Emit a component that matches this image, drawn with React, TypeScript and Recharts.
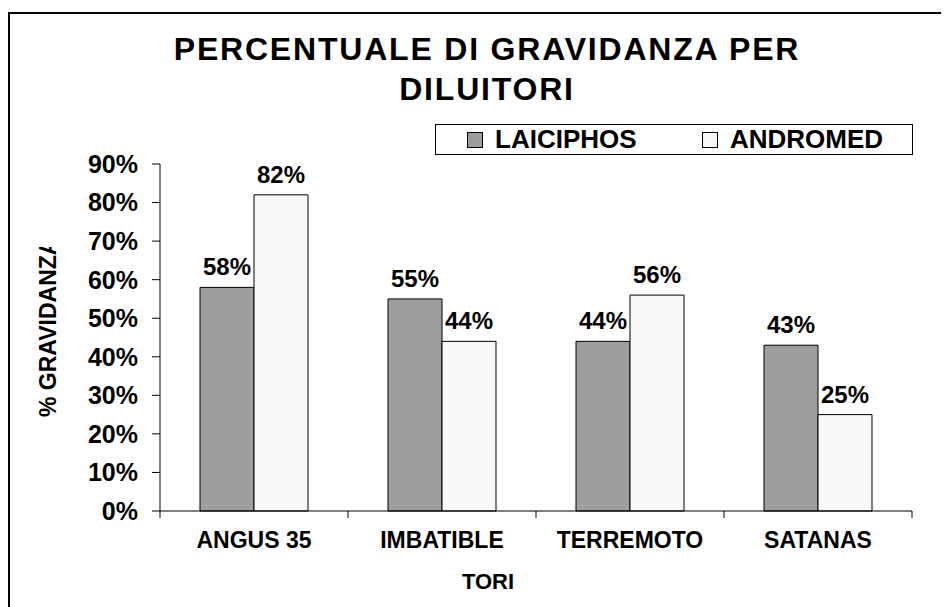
import React from "react";
import { BarChart, Bar, XAxis, YAxis, Legend, LabelList } from "recharts";

const categories = ["ANGUS 35", "IMBATIBLE", "TERREMOTO", "SATANAS"];
const laiciphos = [58, 55, 44, 43];
const andromed = [82, 44, 56, 25];
const yTicks = [0, 10, 20, 30, 40, 50, 60, 70, 80, 90];
const seriesOrder = ["LAICIPHOS", "ANDROMED"];

const data = categories.map((name, i) => ({
  name,
  LAICIPHOS: laiciphos[i],
  ANDROMED: andromed[i],
}));

const FONT = "'Liberation Sans', Arial, sans-serif";
const W = 941;
const H = 599;

const XTick = (props: any) => {
  const { x, y, payload, index, visibleTicksCount, width } = props;
  const half =
    payload && typeof payload.offset === "number" && payload.offset > 0
      ? payload.offset
      : width / (visibleTicksCount || 4) / 2;
  const last = index === (visibleTicksCount || 4) - 1;
  return (
    <g>
      <line x1={x - half} x2={x - half} y1={y} y2={y + 7} stroke="#000" strokeWidth={1} />
      {last && <line x1={x + half} x2={x + half} y1={y} y2={y + 7} stroke="#000" strokeWidth={1} />}
      <text
        x={x}
        y={y + 37}
        textAnchor="middle"
        fontFamily={FONT}
        fontWeight="bold"
        fontSize={23}
        fill="#000"
      >
        {payload.value}
      </text>
    </g>
  );
};

const LegendBox = (props: any) => {
  const payload = [...(props.payload || [])].sort(
    (a: any, b: any) => seriesOrder.indexOf(a.value) - seriesOrder.indexOf(b.value)
  );
  return (
    <div
      style={{
        boxSizing: "border-box",
        width: 478,
        height: 31,
        border: "1px solid #000",
        background: "#fff",
        position: "relative",
        fontFamily: FONT,
        fontWeight: "bold",
        fontSize: 26,
        color: "#000",
      }}
    >
      {payload.map((p: any, i: number) => (
        <div
          key={p.value}
          style={{
            position: "absolute",
            left: i === 0 ? 31 : 266,
            top: 0,
            height: 29,
            display: "flex",
            alignItems: "center",
            whiteSpace: "nowrap",
            lineHeight: "29px",
          }}
        >
          <span
            style={{
              display: "inline-block",
              width: 16,
              height: 16,
              boxSizing: "border-box",
              border: "1px solid #000",
              background: p.color,
              marginRight: 12,
            }}
          />
          <span>{p.value}</span>
        </div>
      ))}
    </div>
  );
};

export default function App() {
  return (
    <div style={{ position: "relative", width: W, height: H, overflow: "hidden", background: "#fff" }}>
      <style>{"html,body{overflow:hidden;}"}</style>
      <svg
        width={W}
        height={H}
        style={{ position: "absolute", left: 0, top: 0, pointerEvents: "none" }}
      >
        <defs>
          <clipPath id="ylabclip">
            <rect x={0} y={239} width={120} height={300} />
          </clipPath>
        </defs>
        <line x1={1} y1={4} x2={1} y2={H} stroke="#000" strokeWidth={2} />
        <line x1={0} y1={5} x2={W} y2={5} stroke="#000" strokeWidth={2} />
        <text x={479} y={52} textAnchor="middle" fontFamily={FONT} fontWeight="bold" fontSize={32} letterSpacing={1.8} fill="#000">
          PERCENTUALE DI GRAVIDANZA PER
        </text>
        <text x={479} y={92} textAnchor="middle" fontFamily={FONT} fontWeight="bold" fontSize={32} letterSpacing={1.8} fill="#000">
          DILUITORI
        </text>
        <g clipPath="url(#ylabclip)">
          <text
            x={0}
            y={0}
            transform="translate(48,409) rotate(-90)"
            textAnchor="start"
            fontFamily={FONT}
            fontWeight="bold"
            fontSize={23}
            fill="#000"
          >
            % GRAVIDANZA
          </text>
        </g>
      </svg>
      <div style={{ position: "absolute", left: 0, top: 0 }}>
        <BarChart
          width={W}
          height={H}
          data={data}
          margin={{ top: 156, right: 37, left: 0, bottom: 36 }}
          barCategoryGap={40}
          barGap={0}
        >
          <XAxis
            dataKey="name"
            height={60}
            tickSize={0}
            tickMargin={0}
            tickLine={false}
            axisLine={{ stroke: "#000", strokeWidth: 1 }}
            tick={<XTick />}
            interval={0}
          />
          <XAxis
            xAxisId="top"
            dataKey="name"
            orientation="top"
            height={0}
            tick={false}
            tickLine={false}
            axisLine={{ stroke: "#808080", strokeWidth: 1 }}
          />
          <YAxis
            width={152}
            domain={[0, 90]}
            ticks={yTicks}
            interval={0}
            tickFormatter={(v: number) => `${v}%`}
            tickSize={8}
            tickMargin={14}
            tickLine={{ stroke: "#000" }}
            axisLine={{ stroke: "#000", strokeWidth: 1 }}
            tick={{ fontFamily: FONT, fontWeight: "bold", fontSize: 25, fill: "#000" }}
          />
          <YAxis
            yAxisId="right"
            orientation="right"
            width={0}
            domain={[0, 90]}
            tick={false}
            tickLine={false}
            axisLine={{ stroke: "#808080", strokeWidth: 1 }}
          />
          <Legend
            layout="horizontal"
            verticalAlign="middle"
            align="center"
            content={<LegendBox />}
            wrapperStyle={{ left: 427, top: 116, width: 478, height: 31 }}
          />
          <Bar dataKey="LAICIPHOS" fill="#9e9e9e" stroke="#000" strokeWidth={1} isAnimationActive={false}>
            <LabelList
              dataKey="LAICIPHOS"
              position="top"
              offset={12}
              formatter={(v: number) => `${v}%`}
              style={{ fontFamily: FONT, fontWeight: "bold", fontSize: 24, fill: "#000" }}
            />
          </Bar>
          <Bar dataKey="ANDROMED" fill="#f8f8f8" stroke="#000" strokeWidth={1} isAnimationActive={false}>
            <LabelList
              dataKey="ANDROMED"
              position="top"
              offset={12}
              formatter={(v: number) => `${v}%`}
              style={{ fontFamily: FONT, fontWeight: "bold", fontSize: 24, fill: "#000" }}
            />
          </Bar>
        </BarChart>
      </div>
      <div
        style={{
          position: "absolute",
          left: 210,
          top: 562,
          width: 540,
          textAlign: "center",
          fontFamily: FONT,
          fontWeight: "bold",
          fontSize: 22,
          color: "#000",
          lineHeight: "24px",
        }}
      >
        TORI
      </div>
    </div>
  );
}
